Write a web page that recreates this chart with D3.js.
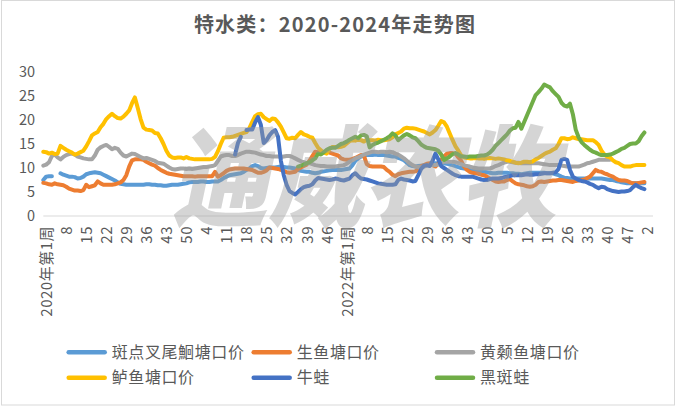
<!DOCTYPE html>
<html><head><meta charset="utf-8">
<script src="https://cdn.jsdelivr.net/npm/d3@7/dist/d3.min.js"></script>
<style>
html,body{margin:0;padding:0;background:#fff;}
svg{display:block;font-family:"Noto Sans CJK SC","Noto Sans",sans-serif;}
</style></head>
<body><svg id="chart" width="679" height="411"></svg>
<script>
// ---- categories (weeks) ----
const yearWeeks = [[2020,53],[2021,52],[2022,52],[2023,52],[2024,5]];
const categories = yearWeeks.flatMap(([yr,n]) => d3.range(1,n+1).map(w => ({year:yr, week:w})));
const tickEvery = 7;
const tickLabel = c => c.week === 1 ? `${c.year}年第1周` : String(c.week);
const yTicks = [0,5,10,15,20,25,30];

const title = "特水类：2020-2024年走势图";
const watermark = "通威农牧";

// ---- series values (index = week position; start = first week index) ----
const s_banDian = [7.5,8.2,8.3,8.3,null,null,8.9,8.6,8.4,8.2,
8.2,8.1,7.8,7.9,8.2,8.7,8.9,9.0,9.1,9.0,
8.9,8.6,8.3,8.0,7.7,7.4,7.0,6.7,6.6,6.5,
6.5,6.5,6.5,6.5,6.5,6.5,6.6,6.6,6.5,6.5,
6.4,6.4,6.3,6.3,6.4,6.5,6.5,6.5,6.6,6.7,
6.8,7.0,7.1,7.1,7.1,7.2,7.2,7.1,7.1,7.2,
7.2,7.2,7.5,7.9,8.2,8.5,8.6,8.7,8.8,8.9,
9.2,9.6,9.9,10.4,10.6,10.4,10.0,9.9,10.0,10.1,
10.1,10.1,10.2,10.3,10.2,10.1,10.1,10.0,9.9,9.6,
9.4,9.3,9.2,9.2,9.0,8.9,9.0,9.2,9.3,9.4,
9.5,9.6,9.6,9.6,9.6,9.7,9.8,9.9,10.6,11.5,
12.0,12.4,12.6,12.7,12.7,12.7,12.8,12.7,12.7,12.7,
12.6,12.5,12.4,12.4,12.1,11.9,11.6,11.1,10.6,10.4,
10.3,10.4,10.5,10.6,10.6,10.7,10.9,11.0,11.0,11.0,
11.0,10.9,10.7,10.6,10.4,10.2,10.0,9.9,9.8,9.7,
9.6,9.5,9.4,9.3,9.2,9.1,9.0,8.9,8.9,9.0,
9.0,9.0,9.0,8.9,8.9,8.8,8.8,8.7,8.8,8.9,
9.0,9.0,9.0,9.0,9.0,9.0,8.9,8.9,8.9,8.7,
8.5,8.2,8.0,7.9,7.8,7.8,7.8,7.8,7.8,7.8,
7.8,7.8,7.8,7.8,7.8,7.8,7.7,7.6,7.5,7.5,
7.3,7.2,7.0,6.9,6.8,6.8,6.8,6.8,6.8,6.8,6.8];

const s_shengYu = [6.9,6.8,6.6,6.5,6.8,6.6,6.5,6.4,6.1,5.7,
5.5,5.3,5.3,5.2,5.4,6.5,6.0,6.2,6.4,7.2,
6.8,6.5,6.5,6.5,6.5,6.6,6.8,7.0,7.5,8.5,
10.3,11.6,11.8,11.8,11.8,11.7,11.3,11.0,10.7,10.5,
10.0,9.6,9.3,9.0,8.8,8.7,8.6,8.5,8.4,8.3,
8.3,8.3,8.3,8.2,8.3,8.3,8.3,8.3,8.3,8.3,
9.2,8.2,8.5,8.9,9.4,9.7,9.8,9.9,9.9,9.9,
9.9,9.8,9.7,9.6,9.3,9.0,9.0,9.2,9.5,10.1,
10.0,9.9,9.8,9.6,9.4,9.1,9.0,9.1,9.2,9.8,
10.1,10.4,10.7,11.5,12.5,13.4,13.3,13.1,13.2,13.4,
13.2,13.0,12.8,12.6,12.0,11.8,11.7,11.7,11.9,12.1,
12.4,12.7,12.6,10.8,10.4,10.3,10.3,10.3,10.3,10.2,
9.6,9.2,8.6,8.3,8.7,8.9,9.0,9.1,9.2,9.2,
9.3,9.8,10.4,10.6,10.9,11.0,10.6,10.3,10.9,11.7,
12.4,13.0,13.1,13.1,13.0,12.2,11.5,10.3,9.6,9.2,
9.0,8.9,8.8,8.6,8.5,8.2,7.8,7.5,7.2,7.1,
7.2,7.2,7.5,7.7,7.2,6.8,6.6,6.5,6.4,6.2,
6.1,6.2,6.5,7.1,7.2,7.1,7.2,7.3,7.4,7.4,
7.5,7.5,7.4,7.3,7.2,7.1,7.3,7.4,7.5,7.6,
7.9,8.2,8.9,9.6,9.3,9.2,8.9,8.7,8.4,8.2,
7.8,7.5,7.4,7.4,7.3,7.0,6.8,6.8,6.9,7.0,7.1];

const s_huangSang = [10.5,10.7,11.2,12.5,12.8,12.2,11.8,12.3,12.7,12.9,
13.0,12.8,12.4,12.2,12.0,11.9,11.8,11.8,12.6,13.8,
14.3,14.6,14.8,14.4,13.9,14.2,14.0,13.2,12.6,12.4,
12.7,13.0,12.9,12.6,12.3,12.0,12.1,11.9,11.7,11.5,
11.1,11.0,10.9,10.5,10.1,9.8,9.7,9.8,9.9,9.9,
9.8,9.9,9.8,9.9,10.0,10.1,10.2,10.2,10.3,10.4,
10.6,11.5,12.4,12.6,12.7,12.7,12.5,12.5,12.7,13.0,
13.2,13.4,13.4,13.3,13.2,13.0,12.8,12.7,12.5,12.5,
12.4,12.4,12.4,12.3,12.4,12.5,12.5,12.3,12.0,11.7,
11.4,11.2,11.0,11.0,10.8,10.6,10.5,10.4,10.4,10.3,
10.3,10.3,10.3,10.4,10.5,10.6,10.9,11.3,11.6,12.0,
12.2,12.5,12.8,13.0,13.2,13.4,13.4,13.3,13.4,13.4,
13.3,13.4,13.3,13.0,12.8,12.4,12.0,11.5,11.0,10.6,
10.3,10.2,10.1,10.3,10.5,10.6,10.6,10.6,10.7,11.0,
11.3,11.3,11.3,11.3,11.2,11.0,10.8,10.6,10.4,10.3,
10.1,10.0,9.9,9.9,9.9,9.9,9.9,10.1,10.4,10.6,
10.9,11.1,11.3,11.3,11.2,11.1,11.1,11.0,11.0,11.0,
11.0,11.0,11.0,11.0,10.9,10.8,10.7,10.6,10.6,10.6,
10.6,10.5,10.4,10.3,10.3,10.3,10.3,10.3,10.5,10.7,
11.0,11.1,11.3,11.5,11.7,11.7,11.7,11.7,11.7];

const s_luYu = [13.4,13.3,13.0,13.2,12.9,13.0,14.6,14.2,13.8,13.5,
13.2,12.8,13.0,13.3,13.6,14.5,15.6,16.8,17.2,17.5,
18.5,19.2,20.2,20.8,21.3,20.8,20.4,20.3,20.7,21.3,
22.0,23.5,24.7,22.5,20.2,18.4,18.0,17.9,17.8,17.3,
17.2,16.2,15.0,13.6,12.6,12.2,12.1,12.2,12.2,12.0,
12.3,12.0,11.9,11.8,11.8,11.8,11.8,11.8,11.8,11.9,
12.3,13.5,15.0,16.3,16.4,16.4,16.5,16.7,16.9,17.1,
17.3,17.5,18.3,19.6,20.8,21.2,21.3,20.6,20.2,19.8,
20.3,20.2,19.5,18.6,17.4,16.2,16.1,16.3,16.2,16.9,
17.5,17.0,16.8,16.5,16.3,15.2,14.2,13.7,13.2,13.0,
14.0,14.4,14.4,14.3,14.4,14.6,15.1,15.6,15.8,15.7,
15.9,15.8,15.5,15.9,15.8,15.8,15.7,15.9,15.8,15.8,
15.9,16.0,16.4,17.0,17.3,17.6,18.2,18.4,18.3,18.3,
18.2,18.0,17.8,17.6,17.3,17.0,17.4,17.9,18.8,19.8,
19.5,18.6,17.2,15.8,14.5,13.6,12.6,12.2,12.1,12.0,
12.0,12.1,12.0,12.0,11.9,12.0,12.1,12.0,11.9,12.0,
11.9,11.8,11.6,11.5,11.3,11.1,11.0,11.1,11.3,11.3,
11.2,11.4,11.8,12.1,12.5,12.9,13.2,13.4,13.8,14.1,
15.0,16.2,16.2,16.0,16.1,16.4,16.2,16.0,16.0,15.9,
15.8,15.8,15.8,15.4,14.8,13.6,12.8,12.4,12.2,11.6,
11.2,11.0,10.6,10.3,10.3,10.3,10.5,10.6,10.6,10.6,10.6];

const s_niuWaStart = 67;
const s_niuWa = [12.8,15.2,16.5,
null,17.9,18.0,18.0,19.5,20.6,19.0,15.2,15.8,16.8,
17.5,17.9,16.5,11.5,8.5,6.5,5.2,4.8,4.5,5.0,
5.6,6.0,6.2,6.3,6.6,7.4,7.9,7.8,7.7,7.6,
7.5,7.6,7.8,7.7,7.5,7.4,7.6,7.8,8.5,8.9,
8.3,7.8,7.7,7.6,7.4,7.2,7.0,6.8,6.7,6.6,
6.5,6.5,6.5,6.6,7.5,7.8,7.6,7.5,7.4,7.2,
7.3,8.5,9.8,10.5,10.6,10.4,11.5,13.0,11.8,10.4,
10.0,9.6,9.2,8.8,8.5,8.3,8.2,8.2,8.2,8.2,
8.2,8.0,7.8,7.6,7.5,7.5,7.7,7.8,7.8,7.8,
7.9,8.1,8.2,8.3,8.5,8.5,8.5,8.5,8.6,8.7,
8.6,8.6,8.7,8.7,8.8,8.9,8.9,8.9,9.0,9.1,
9.8,11.7,11.9,11.7,9.6,8.2,7.8,7.5,7.3,7.2,
7.0,6.7,6.5,6.1,5.8,6.1,6.0,5.6,5.4,5.2,
5.1,5.0,5.1,5.1,5.2,5.4,6.0,6.5,6.1,5.8,5.6];

const s_heiBanWaStart = 89;
const s_heiBanWa = [10.3,
10.5,10.7,11.0,11.2,11.6,12.0,13.0,12.8,13.3,13.8,
14.1,14.2,14.2,14.6,15.0,15.2,15.5,15.9,16.2,16.5,
16.2,16.8,16.9,16.6,14.3,14.8,15.1,15.3,15.6,15.9,
16.2,16.6,17.2,16.8,15.8,16.3,16.8,17.1,16.8,16.4,
16.2,15.6,14.9,14.5,14.2,14.1,14.0,13.9,13.6,12.8,
11.7,12.0,12.4,12.9,13.1,12.8,12.4,12.4,12.3,12.4,
12.4,12.4,12.5,12.6,12.6,12.8,13.2,13.8,14.6,15.2,
15.8,16.4,17.0,17.8,18.3,18.4,19.6,18.2,19.6,21.0,
22.4,23.8,25.2,25.8,26.5,27.4,27.1,26.8,26.0,25.4,
24.8,23.6,23.0,22.8,23.4,21.2,18.0,16.4,15.4,14.8,
14.3,13.8,13.4,13.2,12.9,12.7,12.7,12.7,12.8,13.0,
13.3,13.6,14.0,14.2,14.6,15.0,15.1,15.1,15.6,16.6,17.4];

const seriesNames = ["斑点叉尾鮰塘口价","生鱼塘口价","黄颡鱼塘口价","鲈鱼塘口价","牛蛙","黑斑蛙"];
const seriesColors = ["#5B9BD5","#ED7D31","#A5A5A5","#FFC000","#4472C4","#70AD47"];
const seriesData = [
  {values:s_banDian, start:0},
  {values:s_shengYu, start:0},
  {values:s_huangSang, start:0},
  {values:s_luYu, start:0},
  {values:s_niuWa, start:s_niuWaStart},
  {values:s_heiBanWa, start:s_heiBanWaStart}
];

// ---- drawing ----
const svg = d3.select("#chart");
const TXT = "#595959";
const FONT = '"Noto Sans CJK SC","Noto Sans",sans-serif';

// chart border
svg.append("rect").attr("x",1.5).attr("y",0.5).attr("width",673).attr("height",404.5)
  .attr("fill","#fff").attr("stroke","#d9d9d9").attr("stroke-width",1);

const x = d3.scalePoint().domain(d3.range(categories.length)).range([43.3, 653]);
const y = d3.scaleLinear().domain([0,30]).range([216, 72]);

// title
svg.append("text").attr("x",335).attr("y",32).attr("text-anchor","middle")
  .attr("font-size",20).attr("font-weight","bold").attr("letter-spacing",1.2)
  .attr("fill",TXT).text(title);

// y axis labels
const yAxis = svg.append("g").attr("transform","translate(35,0)")
  .call(d3.axisLeft(y).tickValues(yTicks).tickSize(0).tickPadding(0));
yAxis.select(".domain").remove();
yAxis.selectAll("text").attr("font-size",14.5).attr("fill",TXT).style("font-family",FONT);

// x axis line
svg.append("line").attr("x1",x(0)).attr("x2",653).attr("y1",y(0)).attr("y2",y(0))
  .attr("stroke","#d9d9d9").attr("stroke-width",1);

// x tick labels
const tickIdx = d3.range(0, categories.length, tickEvery).filter(i => i <= 210);
const xAxis = svg.append("g").attr("transform",`translate(0,${y(0)})`)
  .call(d3.axisBottom(x).tickValues(tickIdx).tickFormat(i => tickLabel(categories[i])).tickSize(0));
xAxis.select(".domain").remove();
xAxis.selectAll("text")
  .attr("font-size",15).attr("letter-spacing",0.5).attr("fill",TXT).style("font-family",FONT)
  .attr("text-anchor","end")
  .attr("transform","translate(3,10) rotate(-90)")
  .attr("x",0).attr("y",0).attr("dy","0.35em");

// lines
const line = d3.line().defined(d => d.v != null).x(d => x(d.i)).y(d => y(d.v));
seriesData.forEach((s, k) => {
  const pts = s.values.map((v, j) => ({i: s.start + j, v}));
  svg.append("path").datum(pts).attr("d", line)
    .attr("fill","none").attr("stroke",seriesColors[k]).attr("stroke-width",4)
    .attr("stroke-linejoin","round").attr("stroke-linecap","round");
});

// watermark
svg.append("text").attr("x",364).attr("y",218).attr("text-anchor","middle")
  .attr("font-size",110).attr("font-weight","900")
  .attr("textLength",385).attr("lengthAdjust","spacingAndGlyphs")
  .attr("transform","translate(364,218) skewX(-12) translate(-364,-218)")
  .attr("fill","#9a9a9a").attr("fill-opacity",0.42).text(watermark);

// legend
const legendCols = [66.7, 251.7, 435];
const legendRows = [352.3, 377.7];
seriesNames.forEach((name, k) => {
  const lx = legendCols[k % 3], ly = legendRows[Math.floor(k / 3)];
  const g = svg.append("g");
  g.append("line").attr("x1",lx+2).attr("x2",lx+38).attr("y1",ly).attr("y2",ly)
    .attr("stroke",seriesColors[k]).attr("stroke-width",4.5).attr("stroke-linecap","round");
  g.append("text").attr("x",lx+45).attr("y",ly).attr("dy","0.36em")
    .attr("font-size",16).attr("letter-spacing",0.6).attr("fill",TXT).text(name);
});
</script>
</body></html>
